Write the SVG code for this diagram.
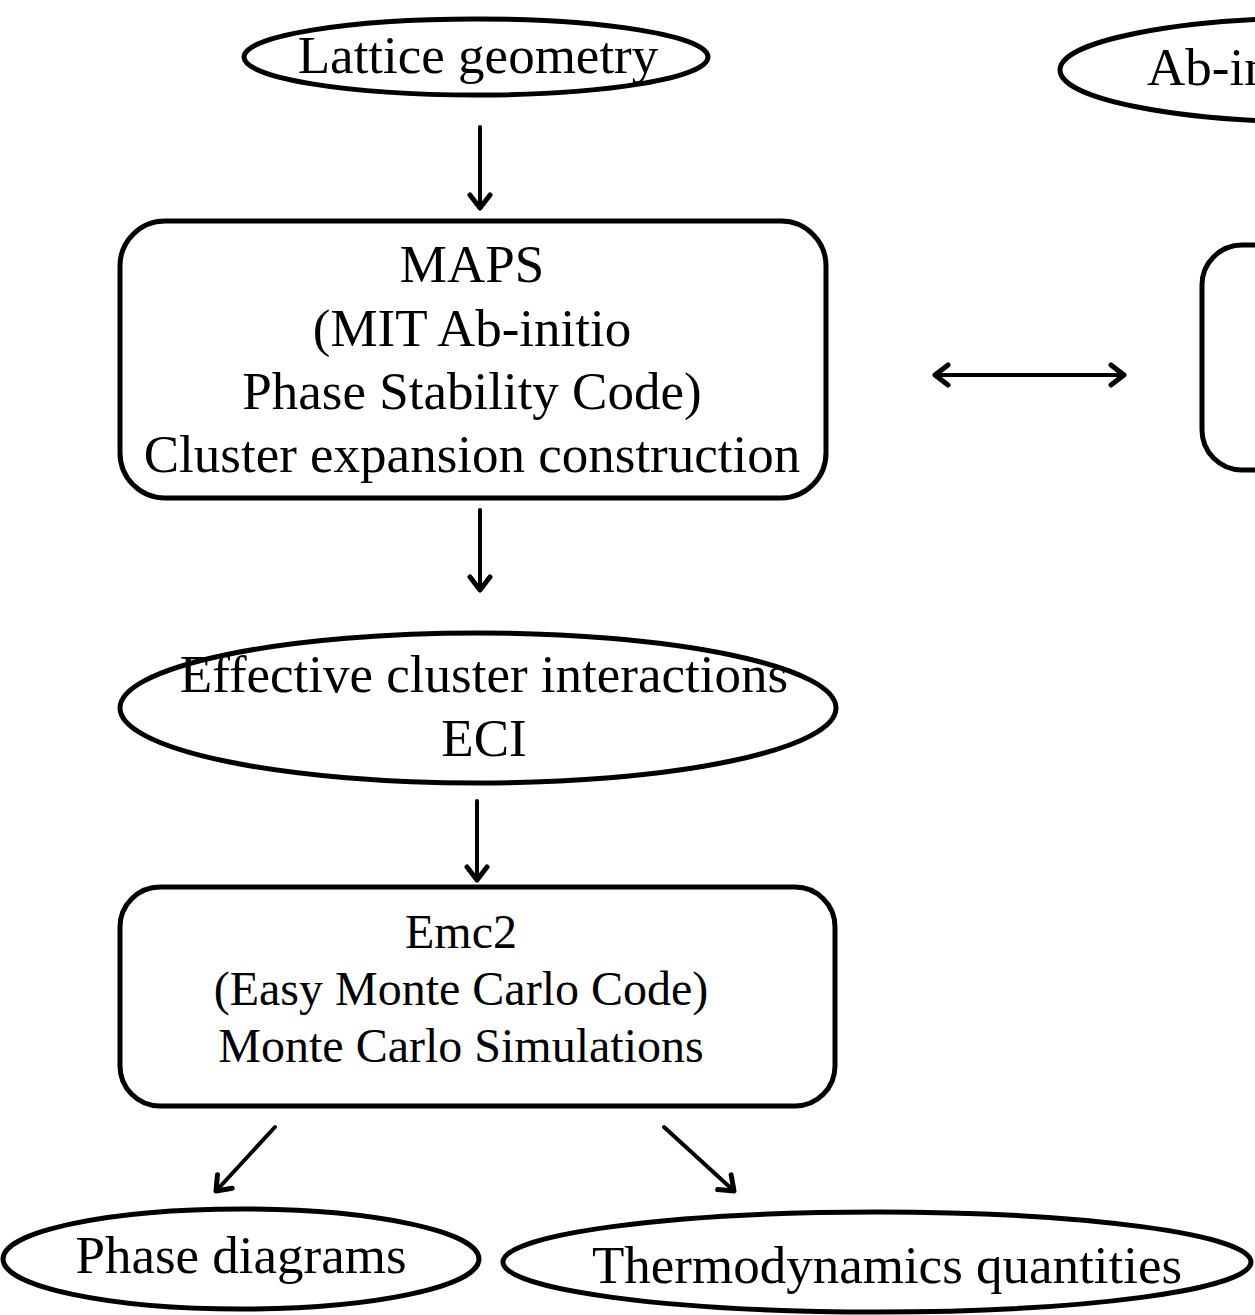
<svg xmlns="http://www.w3.org/2000/svg" width="1255" height="1315" viewBox="0 0 1255 1315">
<style>
.s{fill:#fff;stroke:#000;stroke-width:5}
.t{font-family:"Liberation Serif","Times New Roman",serif;fill:#000;text-anchor:middle}
.c{fill:none;stroke:#000;stroke-width:4;stroke-linecap:round;stroke-linejoin:round}
</style>
<defs>
<marker id="ah" viewBox="0 0 26 26" refX="22" refY="13" markerWidth="26" markerHeight="26" markerUnits="userSpaceOnUse" orient="auto-start-reverse">
<path d="M9,3 L22,13 L9,23" fill="none" stroke="#000" stroke-width="5" stroke-linecap="round" stroke-linejoin="round"/>
</marker>
</defs>
<rect width="1255" height="1315" fill="#fff"/>
<g id="lattice">
<ellipse class="s" cx="476" cy="57" rx="232" ry="38"/>
<text class="t" x="478" y="73" font-size="53">Lattice geometry</text>
</g>
<g id="abinitio">
<ellipse class="s" cx="1320" cy="70" rx="260" ry="52"/>
<text class="t" x="1147" y="85" font-size="53" style="text-anchor:start">Ab-in</text>
</g>
<g id="maps">
<rect class="s" x="120" y="221" width="706" height="277" rx="45"/>
<text class="t" font-size="53" x="472" y="282">MAPS</text>
<text class="t" font-size="53" x="472" y="346">(MIT Ab-initio</text>
<text class="t" font-size="53" x="472" y="409">Phase Stability Code)</text>
<text class="t" font-size="53" x="472" y="472">Cluster expansion construction</text>
</g>
<g id="rightbox">
<rect class="s" x="1202" y="245" width="200" height="225" rx="40"/>
</g>
<g id="eci">
<ellipse class="s" cx="478" cy="708" rx="358" ry="75"/>
<text class="t" font-size="53" x="484" y="692">Effective cluster interactions</text>
<text class="t" font-size="53" x="484" y="756">ECI</text>
</g>
<g id="emc2">
<rect class="s" x="120" y="887" width="715" height="219" rx="40"/>
<text class="t" font-size="48" x="461" y="948">Emc2</text>
<text class="t" font-size="48" x="461" y="1005">(Easy Monte Carlo Code)</text>
<text class="t" font-size="48" x="461" y="1062">Monte Carlo Simulations</text>
</g>
<g id="phase">
<ellipse class="s" cx="241" cy="1259" rx="238" ry="50"/>
<text class="t" font-size="53" x="241" y="1273">Phase diagrams</text>
</g>
<g id="thermo">
<ellipse class="s" cx="877" cy="1262" rx="374" ry="50"/>
<text class="t" font-size="53" x="887" y="1283">Thermodynamics quantities</text>
</g>
<g id="connectors">
<line class="c" x1="480" y1="127" x2="480" y2="208" marker-end="url(#ah)"/>
<line class="c" x1="480" y1="510" x2="480" y2="590" marker-end="url(#ah)"/>
<line class="c" x1="477" y1="801" x2="477" y2="880" marker-end="url(#ah)"/>
<line class="c" x1="275" y1="1127" x2="216" y2="1191" marker-end="url(#ah)"/>
<line class="c" x1="664" y1="1127" x2="734" y2="1191" marker-end="url(#ah)"/>
<line class="c" x1="935" y1="375" x2="1124" y2="375" marker-start="url(#ah)" marker-end="url(#ah)"/>
</g>
</svg>
